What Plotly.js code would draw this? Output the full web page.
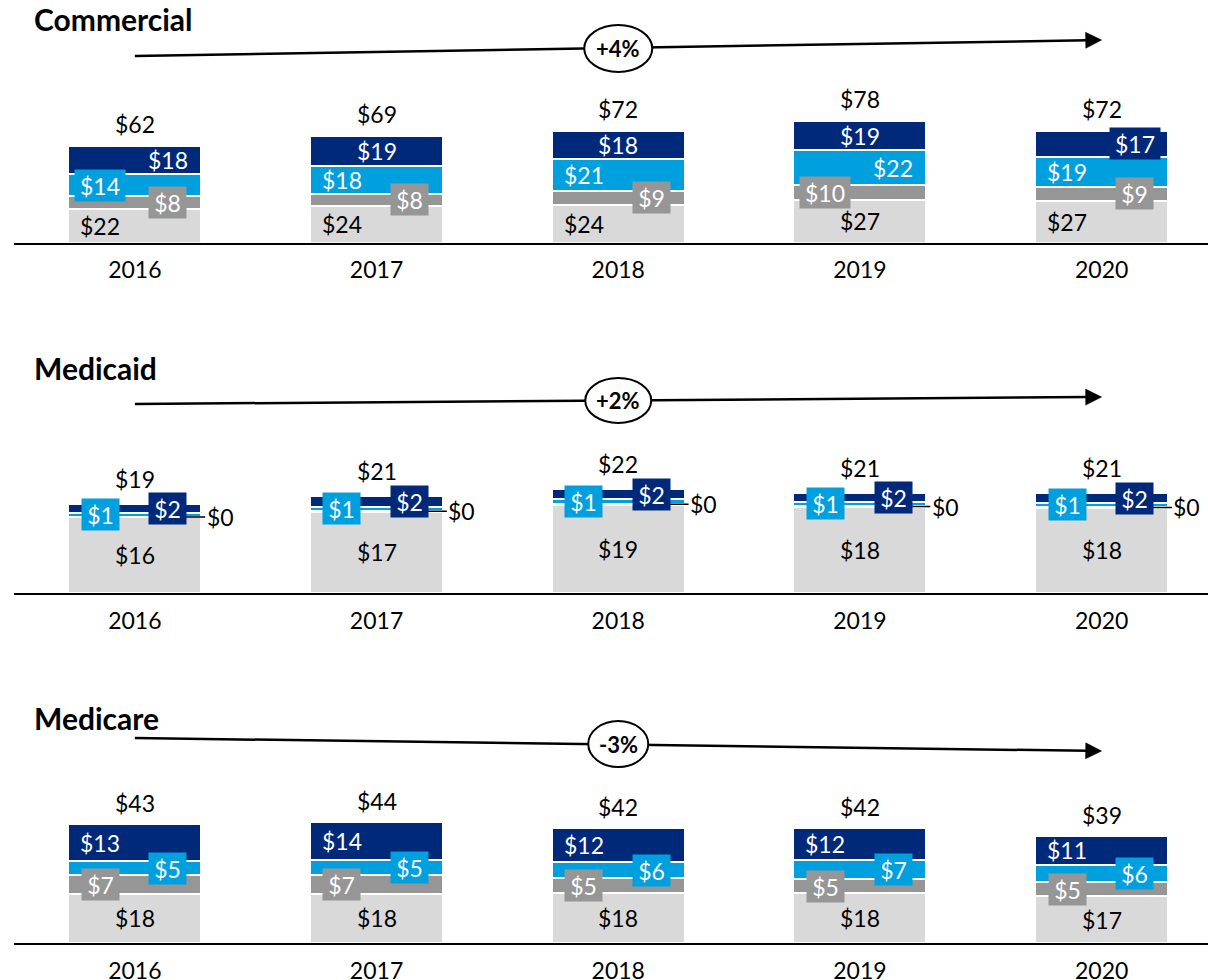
<!DOCTYPE html>
<html><head><meta charset="utf-8">
<script src="https://cdn.plot.ly/plotly-3.0.1.min.js"></script>
<style>html,body{margin:0;padding:0;background:#fff}#chart{width:1208px;height:980px}</style>
</head><body><div id="chart"></div>
<script>
// ---------------- DATA ----------------
const years = ['2016', '2017', '2018', '2019', '2020'];
const panelNames = ['Commercial', 'Medicaid', 'Medicare'];
const trendLabels = ['+4%', '+2%', '-3%'];

// Commercial (segments bottom → top)
const commercialBase = [21.9, 23.6, 24.3, 27.4, 26.9];
const commercialGray = [7.8, 8.0, 9.0, 9.7, 9.1];
const commercialBlue = [14.2, 18.0, 20.6, 22.3, 19.3];
const commercialNavy = [18.1, 19.0, 18.1, 18.7, 16.8];

// Medicaid
const medicaidBase = [16.1, 17.3, 18.8, 18.3, 18.1];
const medicaidGray = [0.1, 0.2, 0.2, 0.2, 0.2];
const medicaidBlue = [0.8, 0.9, 0.9, 0.9, 0.9];
const medicaidNavy = [1.9, 2.2, 2.2, 1.9, 2.0];

// Medicare
const medicareBase = [18.0, 18.0, 18.1, 18.1, 17.1];
const medicareGray = [6.6, 6.8, 5.4, 5.1, 5.1];
const medicareBlue = [5.3, 5.4, 6.1, 6.9, 6.2];
const medicareNavy = [13.2, 13.7, 12.3, 11.8, 10.6];

// ---------------- STYLE / LAYOUT CONFIG ----------------
const W = 1208, H = 980;
const FONT = 'Lato, "Open Sans", sans-serif';
const segColors = ['#D9D9D9', '#969696', '#00A0DF', '#00297A'];
const segTextColors = ['#000000', '#ffffff', '#ffffff', '#ffffff'];

const panelData = [
  [commercialBase, commercialGray, commercialBlue, commercialNavy],
  [medicaidBase, medicaidGray, medicaidBlue, medicaidNavy],
  [medicareBase, medicareGray, medicareBlue, medicareNavy]
];

// label placement per panel, per segment, per year: L / C / R / O (outside with leader)
const labelPos = [
  [['L','L','L','C','L'], ['R','R','R','L','R'], ['L','L','L','R','L'], ['R','C','C','C','R']],
  [['C','C','C','C','C'], ['O','O','O','O','O'], ['L','L','L','L','L'], ['R','R','R','R','R']],
  [['C','C','C','C','C'], ['L','L','L','L','L'], ['R','R','R','R','R'], ['L','L','L','L','L']]
];
const labelBox = [
  [[0,0,0,0,0], [1,1,1,1,1], [1,0,0,0,0], [0,0,0,0,1]],
  [[0,0,0,0,0], [0,0,0,0,0], [1,1,1,1,1], [1,1,1,1,1]],
  [[0,0,0,0,0], [1,1,1,1,1], [1,1,1,1,1], [0,0,0,0,0]]
];
const posOffset = { L: -0.143, C: 0, R: 0.137, O: 0.2 };

const panels = [
  { baseline: 242.5, scale: 1.55, totalShift: 22, titleY: 19, arrowY0: 56, arrowY1: 40, oval: { cy: 48.5, rx: 34, ry: 23.5 } },
  { baseline: 593, scale: 4.7, totalShift: 25, titleY: 368, arrowY0: 404, arrowY1: 397, oval: { cy: 400.5, rx: 33, ry: 22.5 } },
  { baseline: 943.3, scale: 2.76, totalShift: 21, titleY: 718, arrowY0: 738, arrowY1: 751, oval: { cy: 744, rx: 30, ry: 23 } }
];
const panelHeightPx = 185;

const xDom = [14 / W, 1];
const xRange = [-0.5, 4.44];
const catPx = i => xDom[0] * W + (i - xRange[0]) / (xRange[1] - xRange[0]) * (xDom[1] - xDom[0]) * W;
const px = p => p / W;
const py = p => 1 - p / H;

const xIdx = years.map((_, i) => i);
const fmt = v => '$' + Math.round(v);

const traces = [];
const annotations = [];
const shapes = [];
const layout = {
  width: W, height: H,
  margin: { l: 0, r: 0, t: 0, b: 0 },
  paper_bgcolor: '#ffffff', plot_bgcolor: 'rgba(0,0,0,0)',
  barmode: 'stack',
  showlegend: false,
  font: { family: FONT, size: 23, color: '#000' },
  annotations, shapes
};

panels.forEach((P, p) => {
  const sfx = p === 0 ? '' : String(p + 1);
  const xa = 'x' + sfx, ya = 'y' + sfx;
  const yBottom = (H - P.baseline) / H;
  const yTop = (H - P.baseline + panelHeightPx) / H;
  layout['xaxis' + sfx] = {
    domain: xDom, range: xRange, anchor: ya,
    tickmode: 'array', tickvals: xIdx, ticktext: years,
    ticks: '', showgrid: false, zeroline: false,
    showline: true, linecolor: '#000000', linewidth: 2,
    tickfont: { family: FONT, size: 23, color: '#000' },
    ticklabelstandoff: 6, fixedrange: true
  };
  layout['yaxis' + sfx] = {
    domain: [yBottom, yTop], range: [0, panelHeightPx / P.scale], anchor: xa,
    visible: false, showgrid: false, zeroline: false, fixedrange: true
  };

  const segs = panelData[p];
  segs.forEach((vals, s) => {
    traces.push({
      type: 'bar', x: xIdx, y: vals, xaxis: xa, yaxis: ya, width: 0.55,
      marker: { color: segColors[s], line: { color: '#ffffff', width: 2 } },
      hoverinfo: 'skip', showlegend: false
    });
  });

  // segment labels
  years.forEach((yr, i) => {
    let cum = 0;
    segs.forEach((vals, s) => {
      const v = vals[i];
      const mid = cum + v / 2;
      cum += v;
      const pos = labelPos[p][s][i];
      const txt = fmt(v);
      if (pos === 'O') {
        annotations.push({
          xref: xa, yref: ya, x: i + posOffset.O, y: mid, text: txt,
          showarrow: true, arrowhead: 0, arrowwidth: 1.5, arrowcolor: '#000',
          ax: 37, ay: 0, standoff: 0,
          font: { family: FONT, size: 23, color: '#000' }
        });
        return;
      }
      const boxed = labelBox[p][s][i] === 1;
      const a = {
        xref: xa, yref: ya, x: i + posOffset[pos], y: mid, text: txt,
        showarrow: false, xanchor: 'center', yanchor: 'middle',
        font: { family: FONT, size: 23, color: segTextColors[s] }
      };
      if (boxed) {
        a.bgcolor = segColors[s];
        a.borderpad = 0;
        a.width = 13 * txt.length + 11;
        a.height = 31;
      }
      annotations.push(a);
    });
    // total label
    annotations.push({
      xref: xa, yref: ya, x: i, y: cum, yshift: P.totalShift, text: fmt(cum),
      showarrow: false, xanchor: 'center', yanchor: 'middle',
      font: { family: FONT, size: 23, color: '#000' }
    });
  });

  // panel title
  annotations.push({
    xref: 'paper', yref: 'paper', x: px(32), y: py(P.titleY), text: '<b>' + panelNames[p] + '</b>',
    showarrow: false, xanchor: 'left', yanchor: 'middle',
    font: { family: FONT, size: 30, color: '#000' }
  });

  // trend arrow
  const x0 = catPx(0), x1 = catPx(4);
  const y0 = P.arrowY0, y1 = P.arrowY1;
  const len = Math.hypot(x1 - x0, y1 - y0);
  const ux = (x1 - x0) / len, uy = (y1 - y0) / len;
  const headLen = 16, headHalf = 8;
  const bx = x1 - ux * headLen, by = y1 - uy * headLen;
  shapes.push({
    type: 'line', xref: 'paper', yref: 'paper',
    x0: px(x0), y0: py(y0), x1: px(bx + ux * 2), y1: py(by + uy * 2),
    line: { color: '#000', width: 2.5 }
  });
  const pA = [bx - uy * headHalf, by + ux * headHalf];
  const pB = [bx + uy * headHalf, by - ux * headHalf];
  shapes.push({
    type: 'path', xref: 'paper', yref: 'paper',
    path: `M${px(x1)},${py(y1)} L${px(pA[0])},${py(pA[1])} L${px(pB[0])},${py(pB[1])} Z`,
    fillcolor: '#000', line: { color: '#000', width: 0.5 }
  });
  const cx = catPx(2);
  shapes.push({
    type: 'circle', xref: 'paper', yref: 'paper',
    x0: px(cx - P.oval.rx), x1: px(cx + P.oval.rx),
    y0: py(P.oval.cy + P.oval.ry), y1: py(P.oval.cy - P.oval.ry),
    fillcolor: '#ffffff', line: { color: '#000', width: 2 }
  });
  annotations.push({
    xref: 'paper', yref: 'paper', x: px(cx), y: py(P.oval.cy), text: '<b>' + trendLabels[p] + '</b>',
    showarrow: false, xanchor: 'center', yanchor: 'middle',
    font: { family: FONT, size: 22, color: '#000' }
  });
});

Plotly.newPlot('chart', traces, layout, { staticPlot: true, displayModeBar: false });
</script>
</body></html>
